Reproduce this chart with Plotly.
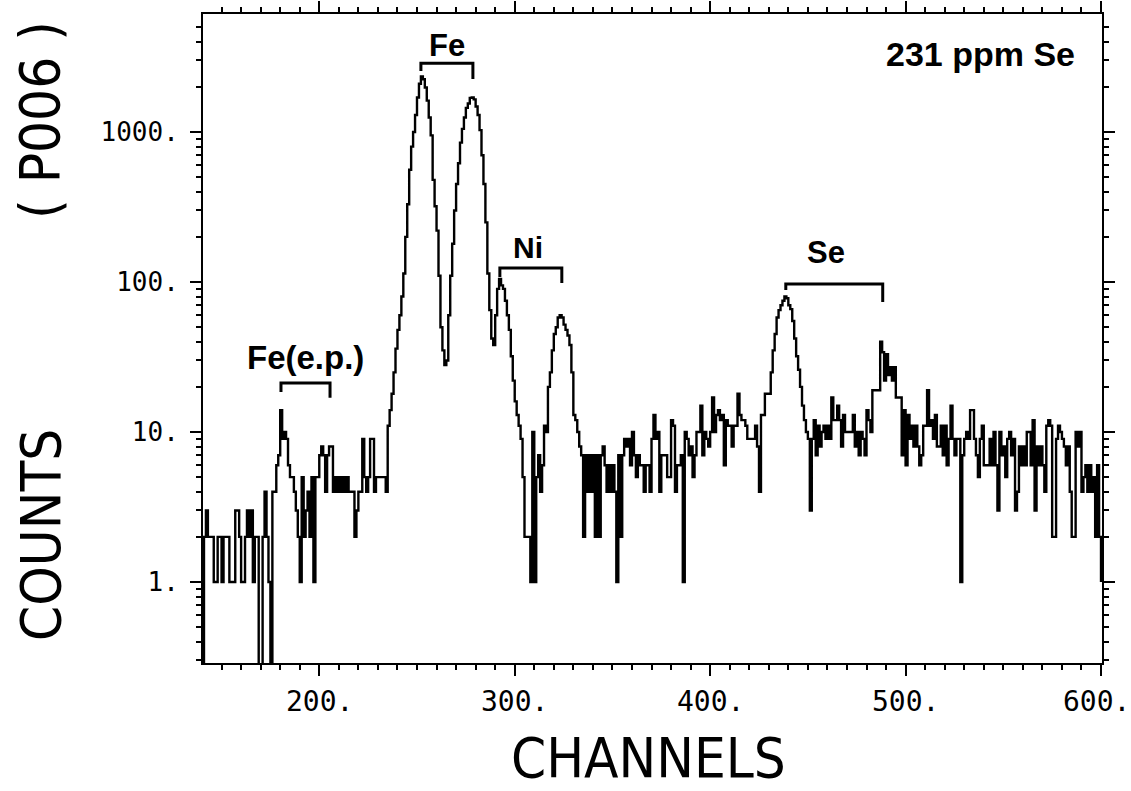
import math
import plotly.graph_objects as go

# ---------------- data ----------------
first_channel = 140
counts = [
    # 140-149
    0, 2, 3, 2, 2, 2, 1, 1, 2, 2,
    # 150-159
    1, 2, 2, 2, 1, 1, 1, 3, 3, 2,
    # 160-169
    1, 1, 2, 3, 2, 3, 1, 2, 2, 0,
    # 170-179
    0, 2, 4, 2, 1, 0, 4, 4, 6, 7,
    # 180-189
    14, 9, 10, 9, 6, 5, 5, 4, 3, 2,
    # 190-199
    1, 5, 2, 3, 4, 2, 5, 1, 5, 5,
    # 200-209
    7, 8, 7, 4, 7, 8, 8, 4, 5, 4,
    # 210-219
    5, 4, 5, 4, 5, 4, 4, 4, 2, 3,
    # 220-229
    4, 4, 9, 5, 4, 5, 9, 9, 4, 5,
    # 230-239
    5, 5, 5, 5, 4, 11, 14, 18, 25, 36,
    # 240-249
    48, 60, 80, 114, 200, 330, 560, 800, 1000, 1300,
    # 250-259
    1700, 2100, 2350, 2250, 1980, 1620, 1250, 950, 480, 320,
    # 260-269
    220, 110, 50, 35, 28, 30, 60, 110, 180, 300,
    # 270-279
    450, 620, 850, 1050, 1250, 1450, 1550, 1690, 1700, 1650,
    # 280-289
    1480, 1300, 1030, 700, 450, 250, 114, 65, 42, 38,
    # 290-299
    60, 90, 105, 95, 90, 75, 60, 48, 32, 22,
    # 300-309
    16, 13, 11, 9, 5, 2, 2, 2, 1, 10,
    # 310-319
    1, 5, 7, 4, 6, 11, 10, 20, 25, 35,
    # 320-329
    45, 50, 58, 60, 58, 52, 48, 44, 38, 25,
    # 330-339
    13, 12, 10, 8, 7, 2, 7, 4, 7, 4,
    # 340-349
    7, 2, 7, 2, 7, 8, 6, 4, 6, 4,
    # 350-359
    6, 4, 1, 7, 2, 7, 9, 8, 9, 6,
    # 360-369
    10, 7, 5, 7, 6, 6, 4, 6, 6, 4,
    # 370-379
    9, 13, 9, 10, 4, 7, 7, 7, 5, 5,
    # 380-389
    12, 11, 4, 6, 6, 7, 1, 10, 9, 7,
    # 390-399
    8, 5, 7, 10, 10, 15, 7, 10, 9, 8,
    # 400-409
    10, 17, 10, 13, 14, 12, 13, 6, 12, 11,
    # 410-419
    11, 8, 11, 11, 18, 13, 12, 12, 11, 9,
    # 420-429
    9, 9, 9, 11, 8, 4, 13, 13, 18, 18,
    # 430-439
    18, 25, 35, 45, 58, 65, 70, 75, 80, 78,
    # 440-449
    70, 66, 55, 42, 32, 26, 20, 15, 12, 10,
    # 450-459
    9, 3, 9, 12, 7, 11, 8, 10, 11, 9,
    # 460-469
    11, 9, 17, 12, 12, 15, 12, 8, 13, 10,
    # 470-479
    10, 10, 10, 13, 8, 10, 7, 10, 9, 7,
    # 480-489
    14, 12, 10, 19, 19, 19, 19, 40, 34, 22,
    # 490-499
    33, 24, 27, 22, 27, 17, 17, 17, 7, 14,
    # 500-509
    6, 13, 9, 11, 8, 11, 8, 6, 7, 11,
    # 510-519
    11, 19, 11, 12, 9, 13, 8, 8, 11, 7,
    # 520-529
    11, 6, 9, 15, 9, 7, 9, 9, 1, 7,
    # 530-539
    9, 10, 9, 14, 14, 9, 7, 5, 9, 11,
    # 540-549
    6, 6, 6, 9, 6, 10, 6, 3, 10, 7,
    # 550-559
    8, 5, 9, 10, 7, 9, 3, 4, 8, 6,
    # 560-569
    8, 6, 10, 10, 6, 12, 3, 8, 6, 8,
    # 570-579
    6, 4, 11, 12, 11, 2, 2, 9, 11, 10,
    # 580-589
    9, 8, 6, 8, 4, 2, 2, 10, 8, 10,
    # 590-600
    4, 5, 6, 4, 6, 4, 5, 2, 6, 2, 1,
]
channels = [first_channel + i for i in range(len(counts))]

x_tick_vals = [200, 300, 400, 500, 600]
x_tick_text = ["200.", "300.", "400.", "500.", "600."]
y_tick_vals = [1, 10, 100, 1000]
y_tick_text = ["1.", "10.", "100.", "1000."]
y_minor_vals = [m * 10 ** e for e in range(-1, 4) for m in range(2, 10)
                if 0.28 < m * 10 ** e < 6000]

# peak groups: label, left channel, right channel, bracket height, left-leg end, right-leg end
peak_labels = ["Fe(e.p.)", "Fe", "Ni", "Se"]
bracket_left = [180.4, 252.0, 292.4, 438.7]
bracket_right = [205.5, 278.6, 324.1, 488.3]
bracket_top = [21.2, 2880, 124, 97]
bracket_left_end = [18.5, 2550, 108, 88.6]
bracket_right_end = [16.9, 2256, 98.5, 73.6]
label_x = [193.2, 265.3, 306.8, 459.2]
label_y = [31.5, 3800, 171, 158]

sample_text = "231 ppm Se"

# ---------------- figure ----------------
plot_counts = [c if c > 0 else 0.1 for c in counts]  # empty channels fall off the bottom

fig = go.Figure()
fig.add_trace(go.Scatter(
    x=channels, y=plot_counts, mode="lines", line=dict(color="black", width=2.4, shape="hv"),
    hoverinfo="skip", showlegend=False))

for i in range(len(peak_labels)):
    fig.add_trace(go.Scatter(
        x=[bracket_left[i], bracket_left[i], bracket_right[i], bracket_right[i]],
        y=[bracket_left_end[i], bracket_top[i], bracket_top[i], bracket_right_end[i]],
        mode="lines", line=dict(color="black", width=3), hoverinfo="skip", showlegend=False))

label_sizes = [33, 31, 30, 31]
annotations = []
for i in range(len(peak_labels)):
    annotations.append(dict(
        x=label_x[i], y=math.log10(label_y[i]), xref="x", yref="y", text=peak_labels[i],
        showarrow=False,
        font=dict(family="Liberation Sans, Arial", size=label_sizes[i], color="black", weight="bold"),
        xanchor="center", yanchor="middle"))
annotations.append(dict(
    x=587.6, y=math.log10(3300), xref="x", yref="y", text=sample_text, showarrow=False,
    font=dict(family="Liberation Sans, Arial", size=34, color="black", weight="bold"),
    xanchor="right", yanchor="middle"))

W, H = 1131, 791
ml, mr, mt, mb = 203, 29, 14, 128
pw, ph = W - ml - mr, H - mt - mb

# x tick labels (the last one is nudged left so it stays inside the page)
for v, t in zip(x_tick_vals, x_tick_text):
    annotations.append(dict(
        x=v, y=(663 - 701) / ph, xref="x", yref="paper", text=t, showarrow=False,
        xshift=-5 if v == x_tick_vals[-1] else 0,
        font=dict(family="DejaVu Sans Mono", size=28, color="black"),
        xanchor="center", yanchor="middle"))

title_font = dict(family="DejaVu Sans Condensed, Liberation Sans Narrow, DejaVu Sans", size=56, color="black")
# titles placed by pixel centre, converted to paper coordinates
title_specs = [("CHANNELS", 648, 757, 0), ("COUNTS", 40, 535, -90), ("( P006 )", 40, 120, -90)]
for text, px, py, ang in title_specs:
    annotations.append(dict(
        x=(px - ml) / pw, y=(H - mb - py) / ph, xref="paper", yref="paper", text=text,
        showarrow=False, font=title_font, textangle=ang, xanchor="center", yanchor="middle"))

fig.update_layout(
    width=W, height=H,
    margin=dict(l=ml, r=mr, t=mt, b=mb, autoexpand=False),
    paper_bgcolor="white", plot_bgcolor="white",
    annotations=annotations,
    xaxis=dict(
        range=[140.5, 600.5], showgrid=False, zeroline=False, automargin=False,
        showline=True, linecolor="black", linewidth=2, mirror="allticks",
        ticks="outside", ticklen=11, tickwidth=2, tickcolor="black",
        tickmode="array", tickvals=x_tick_vals, showticklabels=False,
        minor=dict(ticks="outside", ticklen=5, tickwidth=1.5, tickcolor="black",
                   tick0=0, dtick=10, showgrid=False),
    ),
    yaxis=dict(
        type="log", range=[-0.54, 3.787], showgrid=False, zeroline=False, automargin=False,
        showline=True, linecolor="black", linewidth=2, mirror="allticks",
        ticks="outside", ticklen=11, tickwidth=2, tickcolor="black",
        tickmode="array", tickvals=y_tick_vals, ticktext=y_tick_text,
        tickfont=dict(family="DejaVu Sans Mono", size=26, color="black"),
        ticklabelstandoff=6, ticklabeloverflow="allow",
        minor=dict(ticks="outside", ticklen=5, tickwidth=1.5, tickcolor="black",
                   tickmode="array", tickvals=y_minor_vals, showgrid=False),
    ),
)

fig.write_html("out.html")
